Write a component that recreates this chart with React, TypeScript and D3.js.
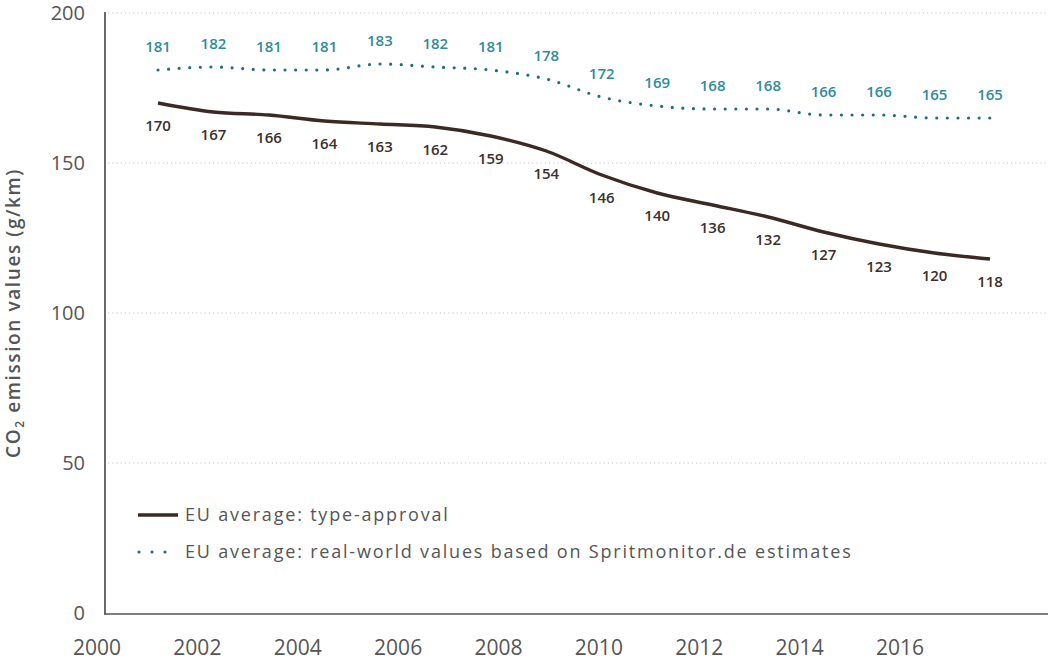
import React from "react";
import * as d3 from "d3";

const years = [2001, 2002, 2003, 2004, 2005, 2006, 2007, 2008, 2009, 2010, 2011, 2012, 2013, 2014, 2015, 2016];
const typeApproval = [170, 167, 166, 164, 163, 162, 159, 154, 146, 140, 136, 132, 127, 123, 120, 118];
const realWorld = [181, 182, 181, 181, 183, 182, 181, 178, 172, 169, 168, 168, 166, 166, 165, 165];
const yTicks = [0, 50, 100, 150, 200];
const xTickLabels = [2000, 2002, 2004, 2006, 2008, 2010, 2012, 2014, 2016];
const legendLabels = [
  "EU average: type-approval",
  "EU average: real-world values based on Spritmonitor.de estimates",
];

const W = 1048;
const H = 660;
const FONT = "'Open Sans', 'DejaVu Sans', sans-serif";
const BROWN = "#3b2a24";
const TEAL_DOT = "#1f6f78";
const TEAL_TXT = "#2f8b9c";
const GRAY = "#555555";

export default function App() {
  const y = d3.scaleLinear().domain([0, 200]).range([613, 13]);
  const xData = d3.scaleLinear().domain([2001, 2016]).range([158, 990]);
  const xTick = d3.scaleLinear().domain([2000, 2016]).range([97, 900]);

  const line = d3
    .line<number>()
    .x((_, i) => xData(years[i]))
    .y((d) => y(d))
    .curve(d3.curveMonotoneX);

  return (
    <svg width={W} height={H} style={{ position: "absolute", left: 0, top: 0, background: "#fff" }}>
      {/* grid */}
      {yTicks.filter((t) => t > 0).map((t) => (
        <line key={t} x1={108} x2={W} y1={y(t)} y2={y(t)} stroke="#c4c4c4" strokeWidth={1} strokeDasharray="1.2,3" />
      ))}
      {/* axes */}
      <line x1={105} x2={105} y1={12} y2={614.5} stroke="#444" strokeWidth={1.6} />
      <line x1={104.2} x2={W} y1={614} y2={614} stroke="#555" strokeWidth={1.6} />
      {/* y tick labels */}
      {yTicks.map((t) => (
        <text key={t} x={85} y={y(t)} dy="0.36em" textAnchor="end" fontFamily={FONT} fontSize={20} fill={GRAY}>
          {t}
        </text>
      ))}
      {/* x tick labels */}
      {xTickLabels.map((t) => (
        <text key={t} x={xTick(t)} y={655} textAnchor="middle" fontFamily={FONT} fontSize={21} fill={GRAY}>
          {t}
        </text>
      ))}
      {/* y title */}
      <text
        transform={`translate(20,${y(100)}) rotate(-90)`}
        textAnchor="middle"
        fontFamily={FONT}
        fontSize={19}
        fontWeight={600}
        letterSpacing={1.6}
        fill={GRAY}
      >
        CO<tspan fontSize={12} dy={4}>2</tspan>
        <tspan dy={-4}> emission values (g/km)</tspan>
      </text>
      {/* lines */}
      <path d={line(typeApproval) || ""} fill="none" stroke={BROWN} strokeWidth={3.4} />
      <path d={line(realWorld) || ""} fill="none" stroke={TEAL_DOT} strokeWidth={3.2} strokeDasharray="0,10.6" strokeLinecap="round" />
      {/* data labels */}
      {typeApproval.map((v, i) => (
        <text key={"b" + i} x={xData(years[i])} y={y(v) + 23} dy="0.35em" textAnchor="middle" fontFamily={FONT} fontSize={15} fontWeight={600} fill="#3a302c">
          {v}
        </text>
      ))}
      {realWorld.map((v, i) => (
        <text key={"t" + i} x={xData(years[i])} y={y(v) - 23} dy="0.35em" textAnchor="middle" fontFamily={FONT} fontSize={15} fontWeight={600} fill={TEAL_TXT}>
          {v}
        </text>
      ))}
      {/* legend */}
      <line x1={138} x2={178} y1={515} y2={515} stroke={BROWN} strokeWidth={3.4} />
      <text x={185} y={515} dy="0.35em" fontFamily={FONT} fontSize={18} letterSpacing={1.8} fill={GRAY}>
        {legendLabels[0]}
      </text>
      <line x1={139} x2={178} y1={552} y2={552} stroke={TEAL_DOT} strokeWidth={3.2} strokeDasharray="0,13" strokeLinecap="round" />
      <text x={185} y={552} dy="0.35em" fontFamily={FONT} fontSize={18} letterSpacing={1.8} fill={GRAY}>
        {legendLabels[1]}
      </text>
    </svg>
  );
}
